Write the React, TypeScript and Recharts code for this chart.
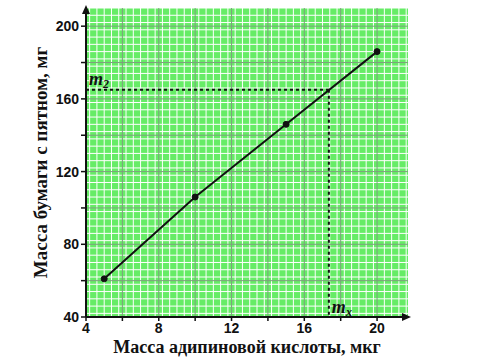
import React from "react"
import {
  LineChart,
  Line,
  XAxis,
  YAxis,
  CartesianGrid,
  ReferenceLine,
  ReferenceDot,
} from "recharts"

// measured points
const acidMass = [5, 10, 15, 20]
const paperMass = [61, 106, 146, 186]

const xTicks = [4, 6, 8, 10, 12, 14, 16, 18, 20]
const xLabelled = [4, 8, 12, 16, 20]
const yTicks = [40, 60, 80, 100, 120, 140, 160, 180, 200]
const yLabelled = [40, 80, 120, 160, 200]

const m2 = 165
const mx = 17.35

const X_MIN = 4
const X_MAX = 21.7
const Y_MIN = 40
const Y_MAX = 210

// graph paper lines
const minorX = Array.from({ length: 89 }, (_, i) => +(X_MIN + i * 0.2).toFixed(1))
const minorY = Array.from({ length: 86 }, (_, i) => Y_MIN + i * 2)
const majorX = Array.from({ length: 9 }, (_, i) => X_MIN + i * 2)
const majorY = Array.from({ length: 9 }, (_, i) => Y_MIN + i * 20)

const data = acidMass.map((x, i) => ({ x, y: paperMass[i] }))

const ink = "#111"
const tickFont = { fontFamily: "Liberation Sans, Arial, sans-serif", fontWeight: 700, fontSize: 14, fill: ink }
const titleFont = "Liberation Serif, Times New Roman, serif"

function UpArrow(props: any) {
  const { cx, cy } = props
  return <path d={`M${cx - 4},${cy + 6} L${cx},${cy - 3} L${cx + 4},${cy + 6} Z`} fill={ink} />
}

function RightArrow(props: any) {
  const { cx, cy } = props
  return <path d={`M${cx - 6},${cy - 4} L${cx + 3},${cy} L${cx - 6},${cy + 4} Z`} fill={ink} />
}

function MathLabel({ viewBox, main, sub, dx, dy }: any) {
  const x = viewBox.x + dx
  const y = viewBox.y + dy
  return (
    <text x={x} y={y} fontFamily={titleFont} fontStyle="italic" fontWeight={700} fontSize={18} fill={ink}>
      {main}
      <tspan fontSize={12} dy={3}>{sub}</tspan>
    </text>
  )
}

export default function App() {
  return (
    <div style={{ width: 501, height: 358 }}>
      <style>{"body{margin:0}"}</style>
      <LineChart width={501} height={358} data={data} margin={{ top: 8, right: 93, bottom: 16, left: 46 }}>
        <CartesianGrid
          fill="#66ec66"
          stroke="#ffffff"
          strokeWidth={1}
          verticalValues={minorX}
          horizontalValues={minorY}
        />
        <CartesianGrid
          stroke="#7f9f7f"
          strokeWidth={1}
          verticalValues={majorX}
          horizontalValues={majorY}
        />
        <XAxis
          dataKey="x"
          type="number"
          domain={[X_MIN, X_MAX]}
          ticks={xTicks}
          allowDataOverflow
          height={25}
          tickSize={4}
          tickLine={{ stroke: ink, strokeWidth: 1.5 }}
          axisLine={{ stroke: ink, strokeWidth: 2 }}
          tick={tickFont}
          tickFormatter={(v: number) => (xLabelled.includes(v) ? String(v) : "")}
          label={{
            value: "Масса адипиновой кислоты, мкг",
            position: "insideBottom",
            offset: -11,
            style: { fontFamily: titleFont, fontWeight: 700, fontSize: 18, fill: ink },
          }}
        />
        <YAxis
          type="number"
          domain={[Y_MIN, Y_MAX]}
          ticks={yTicks}
          allowDataOverflow
          width={40}
          tickSize={5}
          tickLine={{ stroke: ink, strokeWidth: 1.5 }}
          axisLine={{ stroke: ink, strokeWidth: 2 }}
          tick={tickFont}
          tickFormatter={(v: number) => (yLabelled.includes(v) ? String(v) : "")}
          label={{
            value: "Масса бумаги с пятном, мг",
            angle: -90,
            position: "insideLeft",
            offset: -6,
            style: { textAnchor: "middle", fontFamily: titleFont, fontWeight: 700, fontSize: 19, fill: ink },
          }}
        />
        <ReferenceLine
          segment={[{ x: X_MIN, y: m2 }, { x: mx, y: m2 }]}
          stroke={ink}
          strokeWidth={2}
          strokeDasharray="3 3"
          label={<MathLabel main="m" sub="2" dx={3} dy={-5} />}
        />
        <ReferenceLine
          segment={[{ x: mx, y: m2 }, { x: mx, y: Y_MIN }]}
          stroke={ink}
          strokeWidth={2}
          strokeDasharray="3 3"
        />
        <ReferenceDot
          x={mx}
          y={Y_MIN}
          r={0}
          ifOverflow="visible"
          label={<MathLabel main="m" sub="x" dx={3} dy={-4} />}
        />
        <ReferenceDot x={X_MIN} y={Y_MAX} r={0} ifOverflow="visible" shape={<UpArrow />} />
        <ReferenceDot x={X_MAX} y={Y_MIN} r={0} ifOverflow="visible" shape={<RightArrow />} />
        <Line
          dataKey="y"
          stroke={ink}
          strokeWidth={2}
          dot={{ r: 3, fill: ink, stroke: ink, strokeWidth: 1 }}
          isAnimationActive={false}
        />
      </LineChart>
    </div>
  )
}
